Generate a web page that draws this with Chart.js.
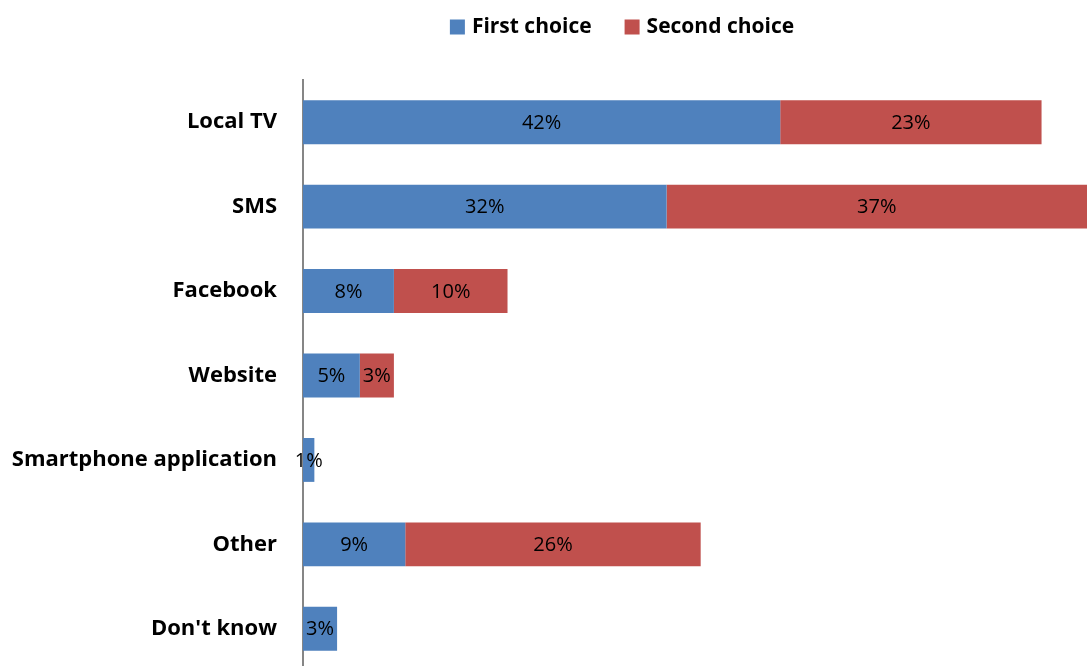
<!DOCTYPE html>
<html>
<head>
<meta charset="utf-8">
<script src="https://cdn.jsdelivr.net/npm/chart.js@4.4.0/dist/chart.umd.min.js"></script>
<style>
  html, body { margin: 0; padding: 0; background: #fff; overflow: hidden; }
  canvas { display: block; }
</style>
</head>
<body>
<canvas id="chart" width="1087" height="671"></canvas>
<script>
// Dados do gráfico
const categories = ['Local TV', 'SMS', 'Facebook', 'Website', 'Smartphone application', 'Other', "Don't know"];
const firstChoice = [42, 32, 8, 5, 1, 9, 3];
const secondChoice = [23, 37, 10, 3, 0, 26, 0];
const seriesNames = ['First choice', 'Second choice'];
const seriesColors = ['#4F81BD', '#C0504D'];

const FONT = '"Open Sans", "Liberation Sans", sans-serif';

// Rótulos de valor no centro de cada barra
const barLabels = {
    id: 'barLabels',
    afterDatasetsDraw(chart) {
        const ctx = chart.ctx;
        ctx.save();
        ctx.font = '20px ' + FONT;
        ctx.fillStyle = '#000';
        ctx.textAlign = 'center';
        ctx.textBaseline = 'middle';
        chart.data.datasets.forEach((ds, i) => {
            const meta = chart.getDatasetMeta(i);
            meta.data.forEach((bar, j) => {
                const v = ds.data[j];
                if (!v) return;
                const cx = (bar.x + bar.base) / 2;
                ctx.fillText(v + '%', cx, bar.y + 1);
            });
        });
        ctx.restore();
    }
};

// Legenda desenhada à mão (caixas + texto em negrito)
const topLegend = {
    id: 'topLegend',
    afterDraw(chart) {
        const ctx = chart.ctx;
        const box = 15, gapText = 7, gapItem = 33, centerX = 622, y = 27;
        ctx.save();
        ctx.font = 'bold 21px ' + FONT;
        ctx.textBaseline = 'middle';
        ctx.textAlign = 'left';
        const items = chart.data.datasets.map(ds => ({
            label: ds.label, color: ds.backgroundColor,
            w: ctx.measureText(ds.label).width
        }));
        let total = 0;
        items.forEach((it, i) => {
            total += box + gapText + it.w + (i < items.length - 1 ? gapItem : 0);
        });
        let x = centerX - total / 2;
        items.forEach(it => {
            ctx.fillStyle = it.color;
            ctx.fillRect(x, y - box / 2, box, box);
            x += box + gapText;
            ctx.fillStyle = '#000';
            ctx.fillText(it.label, x, y);
            x += it.w + gapItem;
        });
        ctx.restore();
    }
};

new Chart(document.getElementById('chart'), {
    type: 'bar',
    data: {
        labels: categories,
        datasets: seriesNames.map((name, i) => ({
            label: name,
            data: i === 0 ? firstChoice : secondChoice,
            backgroundColor: seriesColors[i],
            borderWidth: 0,
            barPercentage: 0.52,
            categoryPercentage: 1
        }))
    },
    options: {
        indexAxis: 'y',
        responsive: false,
        animation: false,
        layout: { padding: { top: 80, left: 0, right: 0, bottom: 0 } },
        plugins: {
            legend: { display: false },
            tooltip: { enabled: false }
        },
        scales: {
            x: {
                stacked: true,
                display: false,
                min: 0,
                max: 69
            },
            y: {
                stacked: true,
                grid: { display: false },
                border: { color: '#868686', width: 2 },
                ticks: {
                    color: '#000',
                    padding: 18,
                    font: { family: FONT, size: 22, weight: 'bold' }
                },
                afterFit(scale) {
                    scale.width = 303;
                    scale.paddingTop = 0;
                    scale.paddingBottom = 0;
                }
            }
        }
    },
    plugins: [barLabels, topLegend]
});
</script>
</body>
</html>
